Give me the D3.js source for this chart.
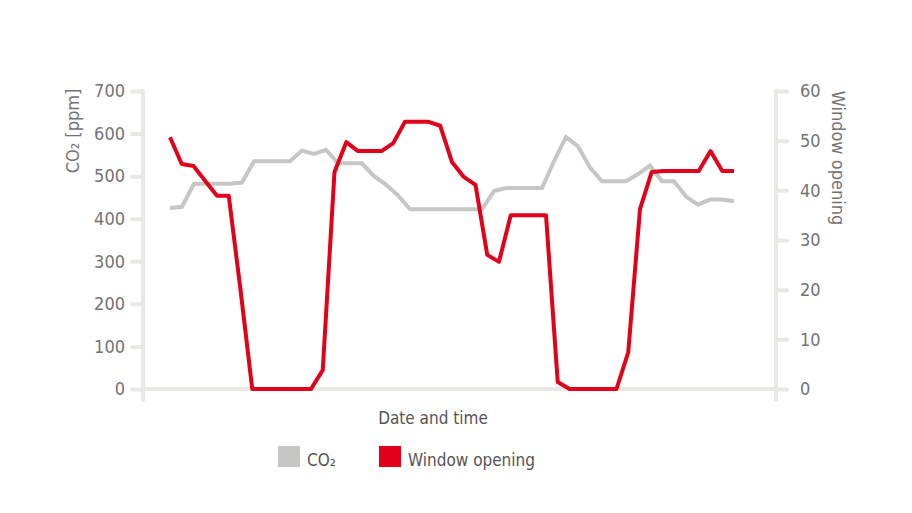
<!DOCTYPE html>
<html><head><meta charset="utf-8">
<script src="https://cdn.jsdelivr.net/npm/d3@7"></script>
<style>body{margin:0;background:#fff}svg{font-family:"DejaVu Sans Condensed","DejaVu Sans",sans-serif}</style>
</head><body><svg id="c" width="912" height="513"></svg>
<script>
const co2 = [425,428,482,482,482,482,485,535,535,535,535,560,552,562,530,530,530,500,480,455,422,422,422,422,422,422,422,465,472,472,472,472,535,592,570,520,488,488,488,505,525,488,488,452,433,445,445,441];
const windowOpening = [50.7,45.3,44.9,41.9,38.9,38.9,20,0,0,0,0,0,0,3.8,43.7,49.7,47.9,47.9,47.9,49.5,53.8,53.8,53.8,53,45.7,42.7,41.1,27,25.6,35,35,35,35,1.4,0,0,0,0,0,7.4,36.2,43.7,43.9,43.9,43.9,43.9,47.9,43.9,43.9];
const leftTicks = [0,100,200,300,400,500,600,700];
const rightTicks = [0,10,20,30,40,50,60];
const labels = {left:"CO\u2082 [ppm]", right:"Window opening", x:"Date and time", co2:"CO\u2082", win:"Window opening"};

const svg = d3.select("#c");
const x0=143, x1=776, yTop=91, yBot=389;
const n = Math.max(co2.length, windowOpening.length);
const x = d3.scaleLinear().domain([0, co2.length-1]).range([170,734]);
const xw = d3.scaleLinear().domain([0, windowOpening.length-1]).range([170,734]);
const yl = d3.scaleLinear().domain([0,700]).range([yBot,yTop]);
const yr = d3.scaleLinear().domain([0,60]).range([yBot,yTop]);
const ax="#e8e8e4", tc="#737373";

const gl = svg.append("g").attr("transform",`translate(${x0},0)`)
  .call(d3.axisLeft(yl).tickValues(leftTicks).tickSize(11).tickPadding(7));
const gr = svg.append("g").attr("transform",`translate(${x1},0)`)
  .call(d3.axisRight(yr).tickValues(rightTicks).tickSize(11).tickPadding(13));
[gl,gr].forEach(g=>{
  g.select(".domain").remove();
  g.selectAll(".tick line").attr("stroke",ax).attr("stroke-width",4).attr("stroke-linecap","round");
  g.selectAll("text").attr("fill",tc).attr("font-size",18).attr("font-family","'DejaVu Sans Condensed',sans-serif");
});
svg.append("line").attr("x1",x0).attr("x2",x0).attr("y1",yTop).attr("y2",400).attr("stroke",ax).attr("stroke-width",4).attr("stroke-linecap","round");
svg.append("line").attr("x1",x1).attr("x2",x1).attr("y1",yTop).attr("y2",400).attr("stroke",ax).attr("stroke-width",4).attr("stroke-linecap","round");
svg.append("line").attr("x1",x0).attr("x2",x1).attr("y1",yBot).attr("y2",yBot).attr("stroke",ax).attr("stroke-width",4);

svg.append("path").datum(co2).attr("fill","none").attr("stroke","#c6c6c4").attr("stroke-width",4)
  .attr("d",d3.line().x((d,i)=>x(i)).y(d=>yl(d)));
svg.append("path").datum(windowOpening).attr("fill","none").attr("stroke","#e2001a").attr("stroke-width",4).attr("stroke-linejoin","round")
  .attr("d",d3.line().x((d,i)=>xw(i)).y(d=>yr(d)));

svg.append("text").attr("transform","translate(79,131) rotate(-90)").attr("text-anchor","middle")
  .attr("fill",tc).attr("font-size",18).text(labels.left);
svg.append("text").attr("transform","translate(832,158) rotate(90)").attr("text-anchor","middle")
  .attr("fill",tc).attr("font-size",18).text(labels.right);
svg.append("text").attr("x",433).attr("y",424).attr("text-anchor","middle").attr("fill","#555").attr("font-size",17).text(labels.x);

svg.append("rect").attr("x",278).attr("y",446).attr("width",22).attr("height",21).attr("fill","#c6c6c4");
svg.append("text").attr("x",307).attr("y",466).attr("fill","#555").attr("font-size",17).text(labels.co2);
svg.append("rect").attr("x",379).attr("y",446).attr("width",22).attr("height",21).attr("fill","#e2001a");
svg.append("text").attr("x",408).attr("y",466).attr("fill","#555").attr("font-size",17).text(labels.win);
</script></body></html>
